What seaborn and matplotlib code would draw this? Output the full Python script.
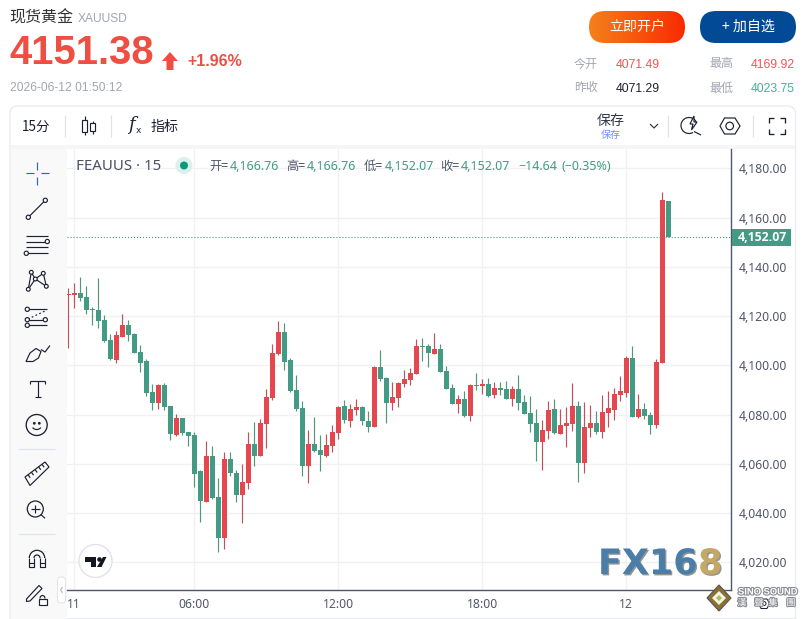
import numpy as np
import pandas as pd
import seaborn as sns
import matplotlib
matplotlib.use("Agg")
import matplotlib.pyplot as plt
from matplotlib.patches import FancyBboxPatch, Circle, Polygon, Rectangle, Arc
from matplotlib.colors import LinearSegmentedColormap
import matplotlib.patheffects as pe

opens = [4128.5,4128.4,4129.2,4127.6,4122.7,4122.3,4118.3,4110.2,4102.1,4111.4,4116.2,4112.6,4105.3,4101.7,4089.1,4084.7,4092.0,4083.5,4071.7,4078.6,
         4072.9,4071.7,4057.1,4044.6,4063.2,4046.6,4030.0,4062.0,4056.3,4047.4,4052.3,4068.0,4063.2,4076.1,4086.6,4104.4,4113.7,4102.0,4089.8,4082.6,
         4059.1,4068.0,4065.6,4063.2,4067.2,4072.5,4083.4,4077.3,4081.8,4083.0,4077.3,4074.9,4099.5,4094.7,4084.6,4086.7,4092.4,4094.0,4096.5,4107.9,
         4107.9,4104.6,4106.7,4097.7,4090.7,4084.2,4086.2,4079.3,4092.0,4091.6,4092.4,4087.9,4090.7,4090.3,4086.2,4090.3,4085.0,4080.5,4076.4,4068.7,
         4073.2,4082.2,4072.3,4075.2,4076.0,4083.3,4060.5,4074.4,4076.4,4073.1,4080.5,4081.7,4087.8,4088.6,4102.8,4079.2,4082.1,4080.0,4075.6,4100.8,4166.76]
highs = [4131.2,4133.3,4135.7,4132.4,4123.5,4135.3,4120.3,4112.6,4113.8,4120.7,4118.3,4113.0,4108.2,4102.5,4092.4,4092.4,4092.8,4083.5,4080.2,4078.6,
         4072.9,4072.9,4057.6,4069.3,4067.3,4054.3,4064.8,4064.8,4057.5,4059.9,4072.9,4076.9,4078.1,4090.2,4108.8,4118.1,4117.3,4102.8,4095.9,4085.4,
         4073.7,4078.9,4071.6,4072.1,4075.7,4083.4,4085.8,4084.2,4086.2,4083.4,4081.3,4099.9,4106.4,4095.1,4093.2,4093.2,4098.1,4098.9,4110.7,4111.1,
         4108.7,4113.2,4108.7,4099.7,4092.4,4087.9,4089.5,4092.4,4096.9,4094.4,4094.8,4093.2,4093.2,4093.6,4091.6,4096.0,4087.9,4087.5,4082.2,4077.7,
         4085.4,4086.2,4082.1,4082.9,4092.7,4085.7,4084.9,4083.7,4081.3,4087.8,4089.4,4090.6,4095.5,4103.6,4107.7,4088.2,4084.5,4080.9,4102.4,4170.3,4166.76]
lows = [4106.9,4123.1,4126.0,4120.7,4116.2,4115.0,4109.4,4102.1,4100.9,4111.4,4109.8,4104.9,4097.2,4087.5,4081.8,4082.2,4081.8,4069.7,4071.3,4071.7,
        4067.3,4050.7,4036.5,4044.6,4045.8,4024.0,4025.6,4055.1,4044.6,4036.1,4049.8,4059.1,4063.2,4066.4,4085.8,4104.0,4097.9,4089.0,4081.3,4055.1,
        4052.3,4064.8,4057.1,4062.8,4064.8,4070.0,4076.5,4074.9,4079.7,4075.7,4072.9,4074.9,4093.5,4076.5,4081.8,4083.0,4091.1,4092.0,4096.5,4101.8,
        4099.3,4104.6,4097.3,4090.3,4084.2,4080.5,4078.9,4077.3,4089.9,4088.3,4087.1,4086.7,4087.9,4086.2,4083.4,4081.8,4080.1,4072.8,4061.3,4057.3,
        4069.9,4072.0,4071.9,4067.0,4073.5,4052.8,4056.1,4070.7,4072.3,4070.3,4074.8,4077.6,4085.7,4087.0,4079.2,4078.4,4078.0,4071.9,4074.4,4100.8,4152.07]
closes = [4128.9,4129.3,4127.2,4122.3,4122.3,4117.9,4109.8,4102.5,4112.2,4116.2,4112.2,4104.9,4100.9,4088.7,4084.7,4092.0,4083.1,4072.1,4078.6,4072.5,
          4071.3,4055.9,4045.0,4063.2,4046.2,4030.0,4062.0,4056.3,4047.4,4052.7,4068.0,4063.2,4076.5,4087.0,4104.8,4113.7,4101.5,4089.4,4082.2,4059.1,
          4068.0,4065.2,4063.6,4067.6,4072.9,4083.0,4077.7,4082.2,4083.0,4077.3,4074.9,4099.5,4094.3,4084.6,4087.1,4092.8,4094.4,4096.9,4107.9,4107.5,
          4105.0,4106.7,4097.3,4090.3,4084.2,4086.2,4079.3,4092.0,4091.6,4092.4,4087.5,4090.7,4089.9,4086.2,4090.3,4084.6,4080.1,4076.0,4068.7,4073.6,
          4081.8,4072.4,4075.6,4076.4,4083.3,4060.5,4074.8,4076.4,4073.1,4080.9,4082.5,4088.2,4089.4,4102.8,4079.2,4082.1,4079.6,4075.6,4101.2,4167.0,4152.07]
last_price = 4152.07
price_ticks = [4020, 4040, 4060, 4080, 4100, 4120, 4140, 4160, 4180]
time_tick_pos = [1, 21, 45, 69, 93]
time_tick_labels = ["11", "06:00", "12:00", "18:00", "12"]

RED, GREEN = "#e5474e", "#439a85"
WRED, WGREEN = "#c0505a", "#4f9a74"
INK = "#1c2030"
AXC = "#50566c"
CJK = ["Noto Sans CJK SC", "DejaVu Sans"]

sns.set_theme(style="white")
plt.rcParams["font.family"] = ["Noto Sans", "Noto Sans CJK SC", "DejaVu Sans"]

W, H = 806, 619
fig = plt.figure(figsize=(W/100, H/100), dpi=100, facecolor="white")

def full(z):
    a = fig.add_axes([0, 0, 1, 1], zorder=z, facecolor="none")
    a.set_xlim(0, W); a.set_ylim(H, 0); a.axis("off")
    return a

bg = full(0)
ov = full(3)

# ---- chart -------------------------------------------------------------
L, R, T_, B = 67, 731.3, 149, 590
ax = fig.add_axes([L/W, 1-B/H, (R-L)/W, (B-T_)/H], zorder=1, facecolor="white")
df = pd.DataFrame({"open": opens, "high": highs, "low": lows, "close": closes})
df["idx"] = np.arange(len(df))
df["up"] = df["close"] >= df["open"]
df["bottom"] = df[["open", "close"]].min(axis=1)
df["body"] = (df["close"] - df["open"]).abs().clip(lower=0.4)

for up, wick, body in [(True, WRED, RED), (False, WGREEN, GREEN)]:
    sub = df[df["up"] == up]
    ax.vlines(sub["idx"], sub["low"], sub["high"], color=wick, lw=0.85, zorder=2)
    sns.barplot(data=sub, x="idx", y="body", bottom=sub["bottom"].to_numpy(), native_scale=True,
                color=body, saturation=1, width=0.84, errorbar=None, linewidth=0, ax=ax, zorder=3)

ax.plot([0, 1], [last_price, last_price], transform=ax.get_yaxis_transform(), color="#3f8f7c",
        lw=0.75, ls=(0, (1, 1.9)), zorder=4)
ax.set_xlim((L-68.3)/6, (R-68.3)/6)
ax.set_ylim(4180-(B-168.3)/2.4625, 4180+(168.3-T_)/2.4625)
ax.set_xlabel(""); ax.set_ylabel("")
ax.yaxis.tick_right()
ax.set_yticks(price_ticks)
ax.set_yticklabels([f"{p:,.2f}" for p in price_ticks])
ax.set_xticks(time_tick_pos)
ax.set_xticklabels(time_tick_labels)
ax.tick_params(axis="y", length=0, pad=5.7, labelsize=8.8, labelcolor=AXC)
ax.tick_params(axis="x", length=0, pad=6, labelsize=8.8, labelcolor=AXC)
ax.grid(True, color="#f1f1f4", lw=1.0)
ax.set_axisbelow(True)
for s in ["top", "left"]:
    ax.spines[s].set_visible(False)
for s in ["right", "bottom"]:
    ax.spines[s].set_color(AXC); ax.spines[s].set_linewidth(1.0)

# ---- helpers -----------------------------------------------------------
def tx(x, y, s, px, color=INK, weight="normal", ha="left", family=None, a=ov, **k):
    return a.text(x, y, s, fontsize=px*0.72, color=color, fontweight=weight, ha=ha, va="center",
                  family=family or CJK, **k)

def ln(xs, ys, c=INK, lw=0.85, a=ov, **k):
    a.plot(xs, ys, color=c, lw=lw, solid_capstyle="butt", **k)

def dot(x, y, r=2.1, ec=INK, fc="white", lw=0.85):
    ov.add_patch(Circle((x, y), r, fc=fc, ec=ec, lw=lw, zorder=5))

def rbox(a, x0, y0, x1, y1, r, fc, ec="none", lw=0, **k):
    p = FancyBboxPatch((x0, y0), x1-x0, y1-y0, boxstyle=f"round,pad=0,rounding_size={r}",
                       fc=fc, ec=ec, lw=lw, **k)
    a.add_patch(p)
    return p

# ---- page chrome -------------------------------------------------------
rbox(bg, 10, 106, 795.5, 640, 8, "white", "#ebecef", 1.0)
bg.add_patch(Rectangle((11, 145), 784, 4, fc="#f6f6f8", ec="none"))
bg.add_patch(Rectangle((11, 149), 56, 470, fc="#f9f9fa", ec="none"))
bg.add_patch(Rectangle((67, 617.5), 728, 1, fc="#e8e9ee", ec="none"))

tx(9.5, 18, "现货黄金", 16, "#333333")
tx(78, 18.5, "XAUUSD", 12, "#a3a6b0", family="Liberation Sans")
tx(9.5, 52.5, "4151.38", 40, "#ee4f43", "bold", family="Liberation Sans")
ov.add_patch(Polygon([(170, 52), (178, 61), (173.5, 61), (173.5, 70), (166.5, 70), (166.5, 61), (162, 61)],
                     fc="#ee4f43", ec="none"))
tx(187, 62, "+1.96%", 16, "#ee4f43", "bold", family="Liberation Sans")
tx(10, 88, "2026-06-12 01:50:12", 12, "#a3a6b0", family="Liberation Sans")

grad = LinearSegmentedColormap.from_list("btn", ["#f5801a", "#f92b00"])
clip = rbox(ov, 589, 11, 685, 43, 16, "none")
im = ov.imshow(np.linspace(0, 1, 96).reshape(1, -1), cmap=grad, extent=(589, 685, 43, 11), aspect="auto", zorder=1)
im.set_clip_path(clip)
ov.set_xlim(0, W); ov.set_ylim(H, 0)
tx(637, 27, "立即开户", 14, "white", ha="center", zorder=2)
rbox(ov, 700, 11, 796, 43, 16, "#034a96")
tx(748, 27, "+ 加自选", 14, "white", ha="center")

tx(574, 64, "今开", 12, "#a3a6b0")
tx(616, 64.5, "4071.49", 12.2, "#f0555a", family="Liberation Sans")
tx(709, 64, "最高", 12, "#a3a6b0")
tx(751, 64.5, "4169.92", 12.2, "#f0555a", family="Liberation Sans")
tx(574, 88, "昨收", 12, "#a3a6b0")
tx(616, 88.5, "4071.29", 12.2, "#20222c", family="Liberation Sans")
tx(709, 88, "最低", 12, "#a3a6b0")
tx(751, 88.5, "4023.75", 12.2, "#36b89a", family="Liberation Sans")

# top toolbar
tx(22, 126.5, "15分", 13.5, INK)
for sx in [64.5, 111, 668, 753]:
    ln([sx, sx], [115, 137], "#e0e3eb", 0.9)
ln([84.5, 84.5], [116, 135], INK)
ov.add_patch(Rectangle((82, 120), 5.2, 11.5, fc="white", ec=INK, lw=0.85, zorder=4))
ln([92.5, 92.5], [121, 134], INK)
ov.add_patch(Rectangle((90, 123), 5, 7.5, fc="white", ec=INK, lw=0.85, zorder=4))
tx(128, 125, "f", 18, INK, family="DejaVu Serif", style="italic")
tx(136, 130.5, "x", 9, INK, family="DejaVu Sans")
tx(151, 126.5, "指标", 14, INK)
tx(611, 121, "保存", 14, "#30354a", ha="center")
tx(611, 135, "保存", 10, "#6f8dff", ha="center")
ln([650, 654, 658], [124, 128, 124], "#30354a")
# lens with bolt
ov.add_patch(Arc((689, 125.5), 16, 16, theta1=60, theta2=340, ec=INK, lw=0.85))
ln([694, 701], [131.5, 135], INK)
ov.add_patch(Polygon([(694, 116), (690, 124), (693, 124), (691.5, 130), (697, 122), (694, 122)], fc="white", ec=INK, lw=0.85, zorder=5))
# hexagon
ov.add_patch(Polygon([(720, 126), (724.5, 118), (735, 118), (740, 126), (735, 134), (724.5, 134)], fc="none", ec=INK, lw=0.85))
ov.add_patch(Circle((729.7, 126), 3.8, fc="none", ec=INK, lw=0.85))
# fullscreen
for (cx, cy, dx, dy) in [(768.5, 117.5, 1, 1), (785, 117.5, -1, 1), (768.5, 133.5, 1, -1), (785, 133.5, -1, -1)]:
    ln([cx+5*dx, cx, cx], [cy, cy, cy+5*dy], INK, 0.95)

# legend row
tx(76, 166, "FEAUUS · 15", 15, "#4a5068", family=["Noto Sans"])
ov.add_patch(Circle((184, 165.5), 8.5, fc="#dcf1ec", ec="none"))
ov.add_patch(Circle((184, 165.5), 4, fc="#089981", ec="none"))
VAL = "#439a85"
lab = "#50566c"
for x, s in [(209, "开="), (286, "高="), (364, "低="), (440, "收=")]:
    tx(x, 166.5, s, 12.3, lab)
for x, s in [(230, "4,166.76"), (307, "4,166.76"), (385, "4,152.07"), (461, "4,152.07"),
             (518, "−14.64"), (561, "(−0.35%)")]:
    tx(x, 166.5, s, 12.5, VAL, family=["Noto Sans"])

# price tag
ov.add_patch(Rectangle((731.8, 229), 59, 16.8, fc=GREEN, ec="none"))
tx(762.5, 237.3, "4,152.07", 12.2, "white", "bold", ha="center", family=["Open Sans"])

# ---- left toolbar icons ------------------------------------------------
B_ = "#2a62e6"
ln([26, 34], [173.3, 173.3], B_); ln([41, 49], [173.3, 173.3], B_)
ln([37.3, 37.3], [162, 169.5], B_); ln([37.3, 37.3], [177.3, 184.7], B_)
ln([28.3, 45.3], [217.3, 200.3]); dot(45.3, 200.3); dot(28.3, 217.3)
for y in [235.7, 241.5, 247.3, 253.3]:
    ln([26, 48], [y, y])
dot(47.3, 241.5); dot(26.3, 253.3)
pts = {"a": (31.3, 272.3), "b": (43.3, 273.3), "c": (35.3, 279), "d": (28.3, 289.3), "e": (46.3, 286.3)}
for u, v in ["da", "ac", "cd", "cb", "be", "ce"]:
    ln([pts[u][0], pts[v][0]], [pts[u][1], pts[v][1]])
for p in pts.values():
    dot(p[0], p[1], 1.9)
for y, x0 in [(309.3, 27), (319.7, 27), (325.3, 27)]:
    ln([x0, 47], [y, y])
ln([28, 45], [319, 311], INK, ls=(0, (1.5, 2)))
dot(27.3, 309.3); dot(27.3, 319.7); dot(45.3, 319.7); dot(27.3, 325.3)
ov.add_patch(Polygon([(26, 361.5), (30, 353), (36, 348.5), (41, 351.5), (38.5, 358), (33, 361.5)], fc="none", ec=INK, lw=0.85))
ln([41, 45, 50], [349.5, 352, 345.5])
ln([30, 45], [380.5, 380.5]); ln([37.5, 37.5], [380.5, 397.3]); ln([34.5, 40.5], [397.3, 397.3])
ln([30, 30], [380.5, 383.5]); ln([45, 45], [380.5, 383.5])
ov.add_patch(Circle((36.7, 425), 10.5, fc="none", ec=INK, lw=0.95))
dot(34.3, 423.3, 0.8, fc=INK); dot(39.3, 423.3, 0.8, fc=INK)
ov.add_patch(Arc((36.7, 426), 9, 7, theta1=20, theta2=160, ec=INK, lw=0.85))
ln([19, 55], [449.3, 449.3], "#e0e3eb", 0.9); ln([19, 55], [534.3, 534.3], "#e0e3eb", 0.9)
ov.add_patch(Polygon([(25, 477), (45, 462), (49, 467), (30, 485.5)], fc="none", ec=INK, lw=0.85))
for t in [0.15, 0.32, 0.5, 0.68, 0.85]:
    x = 25+20*t; y = 477-15*t
    ln([x, x+2.2], [y, y+3])
ov.add_patch(Circle((35.3, 509), 8, fc="none", ec=INK, lw=0.9))
ln([31, 39.6], [509, 509]); ln([35.3, 35.3], [504.7, 513.3]); ln([40.8, 45], [514.5, 518.3])
ov.add_patch(Arc((37, 558), 15.4, 15.4, theta1=180, theta2=360, ec=INK, lw=0.9))
ov.add_patch(Arc((37, 558), 6, 6, theta1=180, theta2=360, ec=INK, lw=0.9))
ln([29.3, 29.3, 34, 34], [558, 567, 567, 558]); ln([40, 40, 44.7, 44.7], [558, 567, 567, 558])
ln([29.3, 34], [563, 563]); ln([40, 44.7], [563, 563])
ov.add_patch(Polygon([(26.5, 599), (39, 585.5), (42, 588.5), (30, 601), (26.5, 601.5)], fc="none", ec=INK, lw=0.85))
ov.add_patch(Rectangle((38.5, 598.5), 8, 6.5, fc="white", ec=INK, lw=0.85, zorder=5))
ov.add_patch(Arc((42.5, 598.5), 5, 6, theta1=180, theta2=360, ec=INK, lw=0.85))
rbox(ov, 57.5, 577, 65.5, 603, 3.5, "white", "#e4e5ea", 0.8)
ln([62.5, 60.5, 62.5], [587, 590, 593], "#b8bac4")

# TradingView badge
ov.add_patch(Circle((95.5, 561), 16.5, fc="white", ec="#e0e3eb", lw=1.0))
ov.add_patch(Polygon([(85, 557), (96, 557), (96, 567), (91, 567), (91, 561.5), (85, 561.5)], fc="#131722", ec="none"))
ov.add_patch(Circle((99.5, 559.5), 2.3, fc="#131722", ec="none"))
ov.add_patch(Polygon([(103, 557), (106.5, 557), (101.5, 567), (97, 567)], fc="#131722", ec="none"))

# ---- watermarks --------------------------------------------------------
shadow = [pe.withSimplePatchShadow(offset=(1, -1), shadow_rgbFace=(0.3, 0.3, 0.3), alpha=0.6)]
tx(598, 564, "FX16", 35, "#4a7ea8", "bold", family=["DejaVu Sans"], path_effects=shadow)
tx(698, 564, "8", 35, "#c6a865", "bold", family=["DejaVu Sans"], path_effects=shadow)
ov.add_patch(Polygon([(719, 585), (731, 598), (719, 611), (707, 598)], fc="#8a7030", ec="#555555", lw=0.8))
ov.add_patch(Polygon([(719, 591), (726, 598), (719, 605), (712, 598)], fc="#f2f2e8", ec="none"))
ov.add_patch(Polygon([(719, 595), (722, 598), (719, 601), (716, 598)], fc="#a8c050", ec="none"))
outline = [pe.withStroke(linewidth=1.6, foreground="#8b8d94")]
tx(738, 592, "SINO SOUND", 9.4, "white", "bold", family=["Liberation Sans"], path_effects=outline)
for x, s in [(742, "漢"), (759, "聲"), (773, "集"), (791, "團")]:
    tx(x, 603, s, 9, "white", ha="center", path_effects=outline)
ov.add_patch(Polygon([(758.5, 603.5), (761, 599), (767, 599), (769.5, 603.5), (767, 608.5), (761, 608.5)], fc="none", ec=INK, lw=0.75))
ov.add_patch(Circle((764, 603.5), 2, fc="none", ec=INK, lw=0.7))

fig.savefig("out.png", dpi=100)
